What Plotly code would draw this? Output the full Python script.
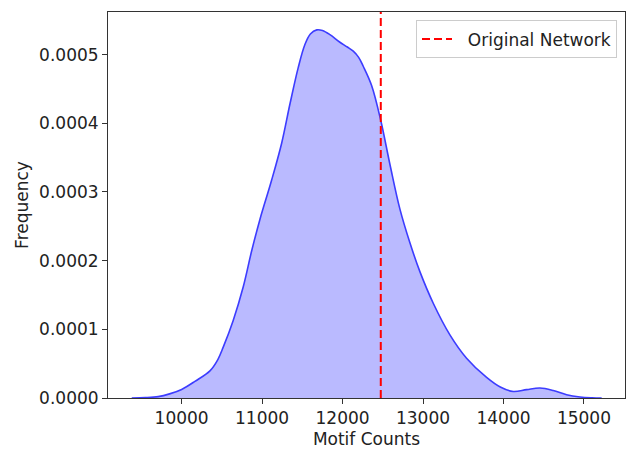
import plotly.graph_objects as go

# KDE curve of motif counts
motif_counts = [9380, 9550, 9709, 9850, 10000, 10165, 10352, 10450, 10517, 10641,
                10766, 10870, 10973, 11118, 11243, 11346, 11449, 11530, 11600, 11680,
                11750, 11843, 11967, 12060, 12133, 12200, 12257, 12361, 12477, 12589,
                12713, 12837, 12961, 13127, 13334, 13541, 13790, 13960, 14121, 14287,
                14453, 14618, 14784, 14950, 15100, 15220]
density = [0.0, 0.0000005, 0.000002, 0.000006, 0.0000125, 0.0000242, 0.0000395, 0.000056,
           0.000074, 0.000113, 0.000162, 0.000214, 0.000260, 0.000317, 0.000371, 0.000428,
           0.000481, 0.000514, 0.000530, 0.000536, 0.000535, 0.000529, 0.000518, 0.000511,
           0.000505, 0.000496, 0.000483, 0.000455, 0.000403, 0.000340, 0.000275, 0.000226,
           0.000184, 0.000138, 0.000092, 0.000058, 0.000030, 0.000016, 0.0000095, 0.0000122,
           0.0000146, 0.000011, 0.0000048, 0.0000015, 0.0000003, 0.0]
original_value = 12475
x_range = [9085, 15510]
y_range = [0, 0.000562]
y_ticks = [0.0, 0.0001, 0.0002, 0.0003, 0.0004, 0.0005]
x_ticks = [10000, 11000, 12000, 13000, 14000, 15000]

font = "DejaVu Sans"
fig = go.Figure()
fig.add_trace(go.Scatter(
    x=motif_counts, y=density, mode="lines",
    line=dict(color="#3c3cff", width=1.6, shape="spline", smoothing=1.0),
    fill="tozeroy", fillcolor="rgba(0,0,255,0.27)", showlegend=False, hoverinfo="skip"))
fig.add_trace(go.Scatter(
    x=[original_value, original_value], y=y_range, mode="lines",
    line=dict(color="#ff0000", width=2, dash="8px,4px"),
    name="\u00a0\u00a0Original Network"))

axis_common = dict(showline=True, linecolor="#333333", linewidth=1, mirror=True,
                   ticks="outside", ticklen=5, tickcolor="#333333", showgrid=False,
                   zeroline=False, tickfont=dict(family=font, size=17, color="#222222"),
                   title_font=dict(family=font, size=17, color="#222222"))
fig.update_layout(
    width=626, height=451,
    margin=dict(l=108, r=1, t=12, b=53),
    plot_bgcolor="white", paper_bgcolor="white",
    xaxis=dict(range=x_range, tickvals=x_ticks, tickformat="d",
               title=dict(text="Motif Counts", standoff=5), **axis_common),
    yaxis=dict(range=y_range, tickvals=y_ticks, tickformat=".4f",
               title=dict(text="Frequency", standoff=6), **axis_common),
    legend=dict(x=0.9845, y=0.978, xanchor="right", yanchor="top",
                bgcolor="rgba(255,255,255,0.8)", bordercolor="#cccccc", borderwidth=1,
                font=dict(family=font, size=17, color="#222222")),
)
fig.write_html("out.html")
